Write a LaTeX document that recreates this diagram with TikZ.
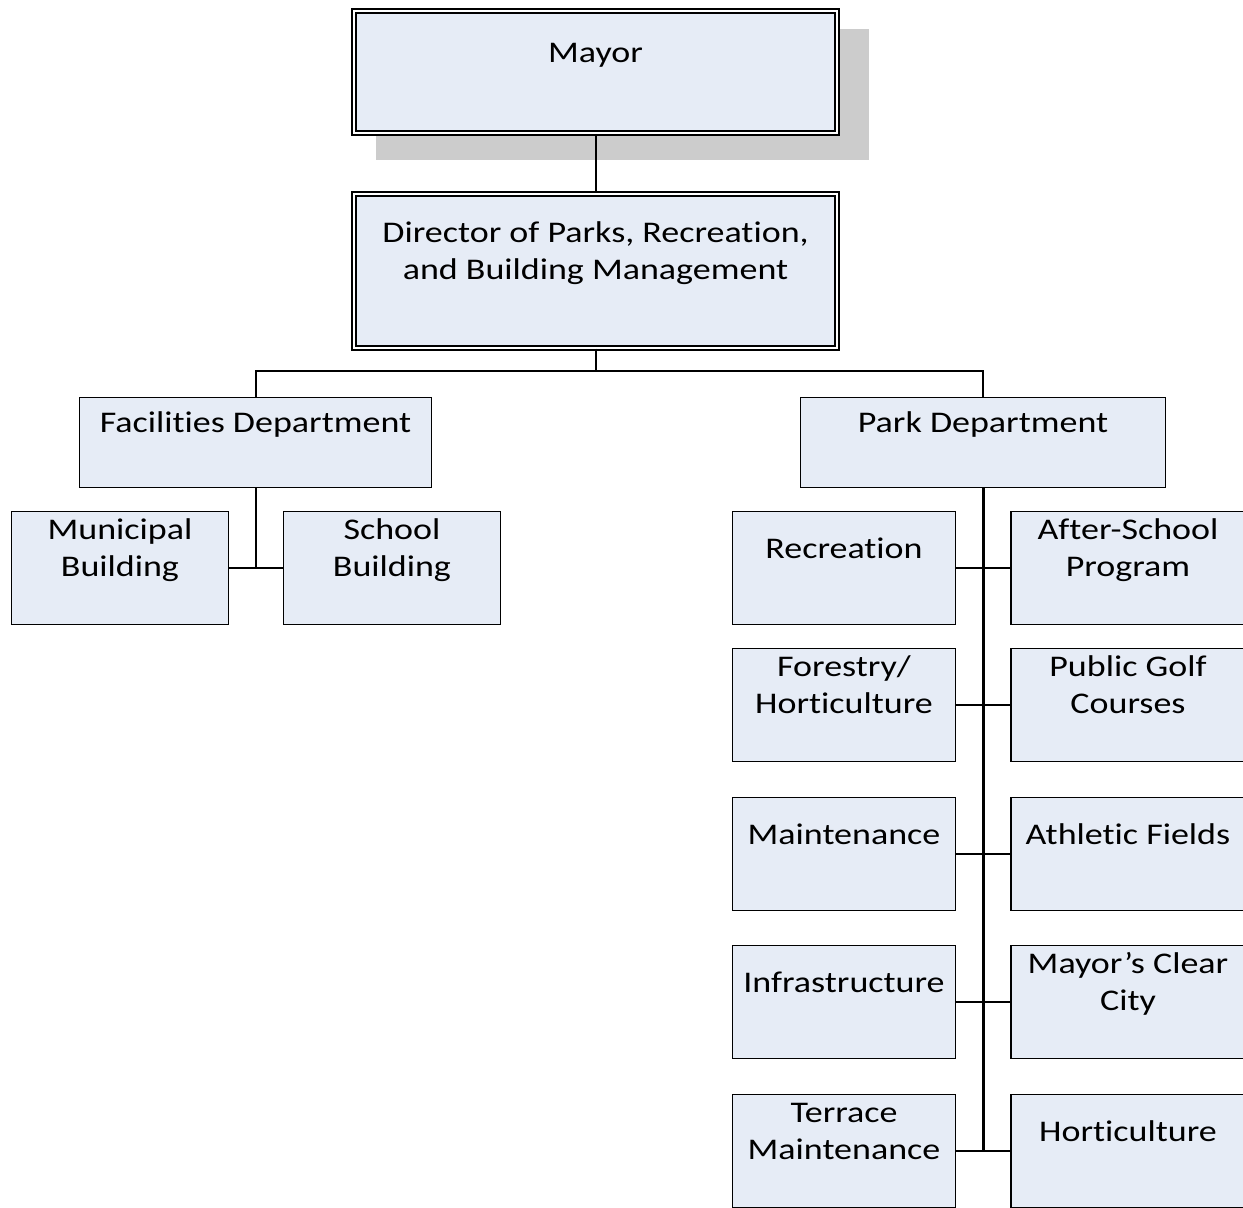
\documentclass[tikz,border=0pt]{standalone}
\usepackage{fontspec}
\setmainfont{Carlito}[FakeStretch=1.2, Ligatures=NoCommon]
\usepackage{xcolor}
\usepackage{tikz}
\usetikzlibrary{positioning,calc,backgrounds}

\definecolor{boxfill}{RGB}{230,236,246}
\definecolor{shadowgray}{RGB}{204,204,204}

% text sits in the upper part of each box
\newcommand{\unittext}[1]{\begin{tabular}{@{}c@{}}#1\\[17pt]\end{tabular}}

\begin{document}
\begin{tikzpicture}[
    x=0.5pt, y=-0.5pt,
    box/.style={draw, line width=0.9pt, fill=boxfill, rectangle, inner sep=0pt,
        font=\fontsize{15}{18.5}\selectfont},
    topbox/.style={box, double, line width=1.1pt, double distance=1pt, minimum width=241.3pt},
    unit/.style={box, minimum width=108.5pt, minimum height=56.5pt},
    leftunit/.style={unit, minimum width=111.5pt},
    rightunit/.style={unit, minimum width=117pt},
    link/.style={line width=1pt},
    spine/.style={line width=1.5pt}
]
\useasboundingbox (0,0) rectangle (1243,1207);

\node[topbox, minimum height=60.8pt] (mayor) at (595.5,72) {\unittext{Mayor}};
\node[topbox, minimum height=76.8pt] (director) at (595.5,271) {\unittext{Director of Parks, Recreation,\\and Building Management}};

\node[box, minimum width=176pt, minimum height=45pt] (facilities) at (255.5,442.5) {\unittext{Facilities Department}};
\node[box, minimum width=182.5pt, minimum height=45pt] (park) at (983,442.5) {\unittext{Park Department}};

\node[unit] (municipal) at (120,568) {\unittext{Municipal\\Building}};
\node[unit] (school) at (392,568) {\unittext{School\\Building}};

\node[leftunit] (recreation) at (844,568) {\unittext{Recreation}};
\node[leftunit] (forestry) at (844,705) {\unittext{Forestry/\\Horticulture}};
\node[leftunit] (maintenance) at (844,854) {\unittext{Maintenance}};
\node[leftunit] (infrastructure) at (844,1002) {\unittext{Infrastructure}};
\node[leftunit] (terrace) at (844,1151) {\unittext{Terrace\\Maintenance}};

\node[rightunit] (afterschool) at (1128,568) {\unittext{After-School\\Program}};
\node[rightunit] (golf) at (1128,705) {\unittext{Public Golf\\Courses}};
\node[rightunit] (athletic) at (1128,854) {\unittext{Athletic Fields}};
\node[rightunit] (clearcity) at (1128,1002) {\unittext{Mayor’s Clear\\City}};
\node[rightunit] (horticulture) at (1128,1151) {\unittext{Horticulture}};

\begin{scope}[on background layer]
\fill[shadowgray] ([shift={(22.5,26.5)}]mayor.south west) rectangle ([shift={(31.5,18.5)}]mayor.north east);
\end{scope}

\draw[link] (mayor.south) -- (director.north);
\draw[link] (director.south) -- ++(0,22) -| (facilities.north);
\draw[link] (director.south) -- ++(0,22) -| (park.north);
\draw[link] (facilities.south) |- (municipal.east);
\draw[link] (facilities.south) |- (school.west);
\draw[spine] (park.south) -- (park.south |- terrace.east);
\draw[link] (recreation.east) -- (afterschool.west);
\draw[link] (forestry.east) -- (golf.west);
\draw[link] (maintenance.east) -- (athletic.west);
\draw[link] (infrastructure.east) -- (clearcity.west);
\draw[link] (terrace.east) -- (horticulture.west);
\end{tikzpicture}
\end{document}
